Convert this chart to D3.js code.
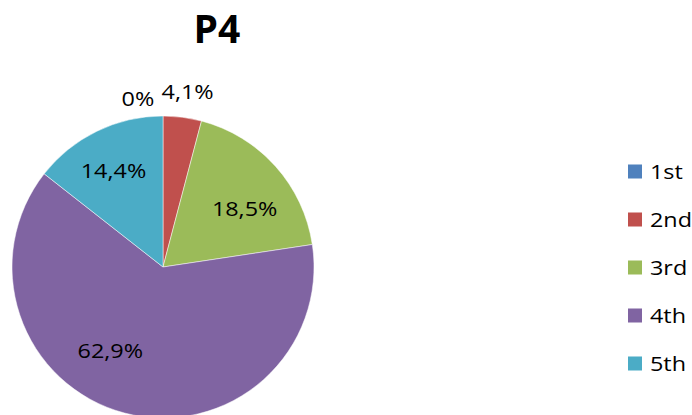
<!DOCTYPE html>
<html><head><meta charset="utf-8">
<script src="https://cdn.jsdelivr.net/npm/d3@7"></script>
<style>html,body{margin:0;padding:0;background:#fff;}svg{display:block;}</style>
</head><body>
<svg id="c" width="692" height="415"></svg>
<script>
const title = "P4";
const categories = ["1st", "2nd", "3rd", "4th", "5th"];
const values = [0, 4.1, 18.5, 62.9, 14.4];
const labels = ["0%", "4,1%", "18,5%", "62,9%", "14,4%"];
const colors = ["#4F81BD", "#C0504D", "#9BBB59", "#8064A2", "#4BACC6"];
// label placement (polar, degrees clockwise from top, radius px)
const labelAngle = [-8.5, 8, 54.7, 212.2, 332.7];
const labelRadius = [170, 177, 100, 99, 108];

const svg = d3.select("#c");
const cx = 163, cy = 267, R = 151;
const font = "'Open Sans', 'Noto Sans', sans-serif";
const sx = 1.17;

svg.append("text").attr("x", 217).attr("y", 43).attr("text-anchor", "middle")
  .attr("font-family", font).attr("font-weight", "bold").attr("font-size", 39)
  .attr("fill", "#000").text(title);

const pie = d3.pie().sort(null).value(d => d)
  .startAngle(0).endAngle(2 * Math.PI);
const arcs = pie(values);
const arc = d3.arc().innerRadius(0).outerRadius(R);
const color = d3.scaleOrdinal().domain(categories).range(colors);

const g = svg.append("g").attr("transform", `translate(${cx},${cy})`);
g.selectAll("path").data(arcs).join("path")
  .attr("d", arc)
  .attr("fill", (d, i) => color(categories[i]))
  .attr("stroke", "#fff").attr("stroke-width", 0.5);

g.selectAll("text.lbl").data(arcs).join("text").attr("class", "lbl")
  .attr("transform", (d, i) => {
    const a = labelAngle[i] * Math.PI / 180;
    const x = labelRadius[i] * Math.sin(a), y = -labelRadius[i] * Math.cos(a);
    return `translate(${x},${y + 7}) scale(${sx},1)`;
  })
  .attr("text-anchor", "middle").attr("font-family", font).attr("font-size", 20)
  .attr("fill", "#000").text((d, i) => labels[i]);

const y = d3.scalePoint().domain(categories).range([171.5, 363.5]);
const leg = svg.append("g").selectAll("g").data(categories).join("g")
  .attr("transform", d => `translate(628,${y(d)})`);
leg.append("rect").attr("x", 0).attr("y", -7).attr("width", 14).attr("height", 14)
  .attr("fill", d => color(d));
leg.append("text").attr("transform", `translate(22,7) scale(${sx},1)`)
  .attr("font-family", font).attr("font-size", 20).attr("fill", "#000").text(d => d);
</script>
</body></html>
